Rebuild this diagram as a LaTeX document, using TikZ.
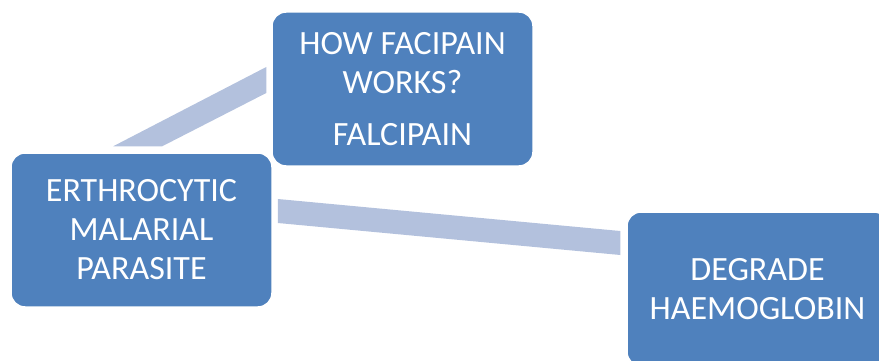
\documentclass[tikz,border=0pt]{standalone}
\usepackage{fontspec}
\setmainfont{Carlito}
\usetikzlibrary{calc}
\definecolor{blue1}{RGB}{79, 129, 189}
\definecolor{blue2}{RGB}{179, 193, 221}

\begin{document}
\begin{tikzpicture}[x=1pt, y=-1pt,
  box/.style={rectangle, rounded corners=14pt, fill=blue1, draw=white, line width=1.5pt,
    minimum width=261pt, minimum height=154pt, inner sep=0pt,
    text=white, align=center, font=\fontsize{34}{39}\selectfont},
  band/.style={fill=blue2}]
  \clip (0,0) rectangle (879,361);
  \node[box] (parasite) at (141.5,230) {ERTHROCYTIC\\MALARIAL\\PARASITE};
  \node[box] (falcipain) at (402.5,89) {HOW FACIPAIN\\WORKS?\\[13.5pt]FALCIPAIN};
  \node[box] (haemo) at (757.5,289) {DEGRADE\\HAEMOGLOBIN};

  % connectors
  \fill[band] ($(parasite.north west)+(103,-6)$) -- ($(parasite.north west)+(152,-6)$)
    -- ($(falcipain.west)+(-5,4)$) -- ($(falcipain.west)+(-5,-22)$) -- cycle;
  \fill[band] ($(parasite.east)+(5,-31)$) -- ($(haemo.west)+(-6,-58)$)
    -- ($(haemo.west)+(-6,-34)$) -- ($(parasite.east)+(5,-7)$) -- cycle;
\end{tikzpicture}
\end{document}
